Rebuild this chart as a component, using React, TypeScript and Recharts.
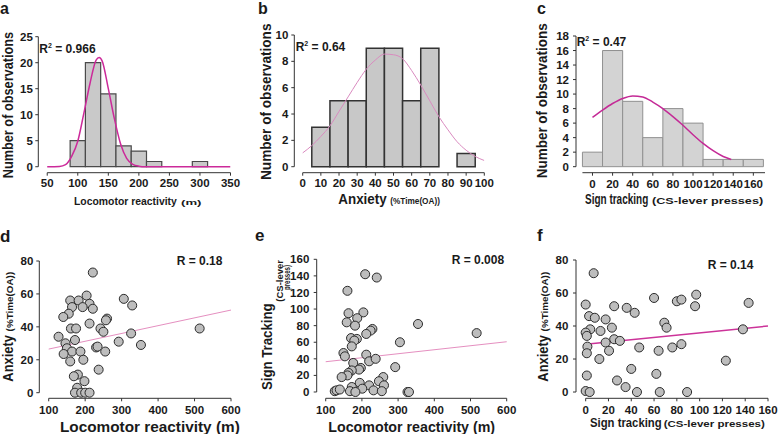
import React from "react"
import { ScatterChart, Scatter, XAxis, YAxis, ReferenceArea, ReferenceLine } from "recharts"

// histogram a: locomotor reactivity (bin centres, width 25)
const locoBinCenters = [100, 125, 150, 175, 200, 225, 300]
const locoCounts = [5, 20, 14, 4, 3, 1, 1]
const locoBinWidth = 25
const locoCurveX = [50, 70, 80, 90, 100, 110, 120, 130, 135, 140, 150, 160, 170, 180, 190, 200, 210, 350]
const locoCurveY = [0, 0.05, 0.4, 2.0, 4.9, 10.3, 16, 20.5, 21, 20.3, 15, 9.2, 4.4, 1.6, 0.45, 0.1, 0, 0]

// histogram b: anxiety
const anxBinCenters = [10, 20, 30, 40, 50, 60, 70, 90]
const anxCounts = [3, 5, 5, 9, 9, 5, 9, 1]
const anxBinWidth = 10
const anxCurveX = [0, 5, 10, 15, 20, 25, 30, 35, 40, 45, 50, 55, 60, 65, 70, 75, 80, 85, 90, 95, 100]
const anxCurveY = [1.05, 1.6, 2.3, 3.1, 4.2, 5.3, 6.4, 7.4, 8.1, 8.55, 8.5, 8.2, 7.3, 6.2, 5.0, 3.8, 2.8, 1.9, 1.25, 0.78, 0.47]

// histogram c: sign tracking
const signBinCenters = [0, 20, 40, 60, 80, 100, 120, 140, 160]
const signCounts = [2, 16, 9, 4, 8, 6, 1, 1, 1]
const signBinWidth = 20
const signCurveX = [0, 10, 20, 30, 40, 50, 60, 70, 80, 90, 100, 110, 120, 130, 138]
const signCurveY = [6.8, 7.8, 8.7, 9.4, 9.75, 9.6, 8.9, 8.0, 6.9, 5.7, 4.4, 3.2, 2.2, 1.4, 1.0]

// scatter d: locomotor vs anxiety
const dLoco = [221, 159, 182, 204, 212, 164, 193, 221, 306, 329, 155, 140, 260, 257, 212, 242, 250, 161, 175, 326, 514, 127, 172, 292, 146, 150, 230, 234, 353, 164, 187, 255, 141, 195, 159, 237, 180, 169, 198, 178, 172, 189, 200, 212]
const dAnx = [73, 56, 56, 59, 54, 52, 52, 51, 57, 53, 48, 46, 45, 44, 42, 39, 37, 39, 39, 36, 39, 34, 32, 31, 30, 27, 27.5, 28, 29, 25, 25, 25, 23.5, 20, 19, 14, 11, 10, 7, 3, 0, 0, 0, 0]
const dFitX = [100, 600]
const dFitY = [26.5, 50.2]

// scatter e: locomotor vs sign tracking
const eLoco = [209, 241, 160, 163, 204, 187, 158, 181, 229, 224, 212, 170, 186, 179, 172, 355, 517, 305, 149, 153, 212, 220, 238, 176, 197, 192, 292, 172, 163, 160, 144, 259, 194, 247, 261, 220, 201, 172, 232, 255, 125, 130, 139, 167, 182, 326, 330]
const eSign = [142, 138, 122, 95, 96, 89, 84, 80, 76, 74, 70, 65, 64, 62, 55, 82, 71, 60, 47, 43, 45, 37, 40, 35, 29, 27, 30, 26, 23, 20, 18, 18, 11, 13, 8, 8, 4, 6, 2, 1, 1, 2, 3, 1, 0, 0, 0]
const eFitX = [100, 600]
const eFitY = [36.5, 60.6]

// scatter f: sign tracking vs anxiety
const fSign = [7, 0, 25, 36, 43, 60, 80, 84, 97, 96, 143, 3, 8, 17.5, 69, 71, 23, 4, 13, 0, 1, 138, 25, 30, 17.5, 1.5, 47, 64, 76, 84, 20.5, 1, 12, 123, 40, 62, 1, 27.5, 35, 0, 3.5, 45, 65, 89]
const fAnx = [72, 53, 52, 51, 48, 57, 55, 56, 59, 52, 54, 46, 45, 44, 42, 39, 39, 38, 37, 36, 34, 38, 32, 31, 30, 27.5, 27, 25, 27, 29, 25, 23.5, 20, 19, 14, 11, 10, 7, 3, 0.6, 0, 0, 0, 0]
const fFitX = [0, 160]
const fFitY = [28.9, 40]

const locoTicks = [50, 100, 150, 200, 250, 300, 350]
const obsTicksA = [0, 5, 10, 15, 20, 25]
const anxTicks = [0, 10, 20, 30, 40, 50, 60, 70, 80, 90, 100]
const obsTicksB = [0, 2, 4, 6, 8, 10]
const signTicks = [0, 20, 40, 60, 80, 100, 120, 140, 160]
const obsTicksC = [0, 2, 4, 6, 8, 10, 12, 14, 16, 18]
const locoTicks2 = [100, 200, 300, 400, 500, 600]
const anxTicks2 = [0, 20, 40, 60, 80]
const signTicksE = [0, 20, 40, 60, 80, 100, 120, 140, 160]
const signTicks2 = [0, 20, 40, 60, 80, 100, 120, 140, 160]

const W = 778
const H = 434
const FONT = "'Liberation Sans', Arial, Helvetica, sans-serif"
const INK = "#1a1a1a"

const zip = (xs: number[], ys: number[]) => xs.map((x, i) => ({ x, y: ys[i] }))
const noShape = () => <g />

// width of a string in em, bold, measured once with a canvas
const measureCtx = typeof document !== "undefined" ? document.createElement("canvas").getContext("2d") : null
function emWidth(text: string) {
  if (!measureCtx) return text.length * 0.6
  measureCtx.font = `700 100px ${FONT}`
  return measureCtx.measureText(text).width / 100
}

type Box = { l: number; r: number; t: number; b: number }

function Panel(props: {
  box: Box
  xDomain: [number, number]
  yDomain: [number, number]
  xTicks: number[]
  yTicks: number[]
  xLine: [number, number]
  xGap: number
  yGap: number
  children?: React.ReactNode
}) {
  const { box, xDomain, yDomain, xTicks, yTicks, xLine, xGap, yGap } = props
  const tick = { fill: INK, fontSize: 11.5, fontWeight: 700, fontFamily: FONT }
  return (
    <div style={{ position: "absolute", left: 0, top: 0 }}>
      <ScatterChart width={W} height={H} margin={{ top: box.t, right: W - box.r, bottom: 0, left: 0 }}>
        <XAxis
          type="number"
          dataKey="x"
          domain={xDomain}
          ticks={xTicks}
          interval={0}
          allowDataOverflow
          axisLine={false}
          tickLine={{ stroke: "#333" }}
          tickSize={3}
          tickMargin={xGap}
          height={H - box.b}
          tick={tick}
        />
        <YAxis
          type="number"
          dataKey="y"
          domain={yDomain}
          ticks={yTicks}
          interval={0}
          allowDataOverflow
          axisLine={false}
          tickLine={{ stroke: "#333" }}
          tickSize={3}
          tickMargin={yGap}
          width={box.l}
          tick={tick}
        />
        {props.children}
        <ReferenceLine
          segment={[{ x: xLine[0], y: yDomain[0] }, { x: xLine[1], y: yDomain[0] }]}
          stroke="#333"
          ifOverflow="visible"
        />
        <ReferenceLine
          segment={[{ x: xDomain[0], y: 0 }, { x: xDomain[0], y: yTicks[yTicks.length - 1] }]}
          stroke="#333"
          ifOverflow="visible"
        />
      </ScatterChart>
    </div>
  )
}

function bins(centers: number[], counts: number[], width: number, fill: string, stroke: string, sw: number) {
  return centers.map((c, i) => (
    <ReferenceArea
      key={`bin-${i}`}
      x1={c - width / 2}
      x2={c + width / 2}
      y1={0}
      y2={counts[i]}
      fill={fill}
      fillOpacity={1}
      stroke={stroke}
      strokeWidth={sw}
      ifOverflow="visible"
    />
  ))
}

type Part = { at: number; len: number; size: number; text: string }

// axis title in parts; each part is sized so its natural width is `len`,
// then stretched across the line so its glyphs are as tall as `size` asks.
function Title(p: { x: number; y: number; vertical?: boolean; parts: Part[] }) {
  const base = p.vertical ? `translate(${p.x},${p.y}) rotate(-90)` : `translate(${p.x},${p.y})`
  return (
    <g>
      {p.parts.map((pt, i) => {
        const fit = pt.len / emWidth(pt.text)
        const k = pt.size / fit
        return (
          <text
            key={i}
            transform={`${base} translate(${pt.at},0) scale(1,${k.toFixed(3)})`}
            fontSize={fit.toFixed(2)}
            fontWeight={700}
            fill={INK}
            fontFamily={FONT}
          >
            {pt.text}
          </text>
        )
      })}
    </g>
  )
}

function Plain(p: { x: number; y: number; size: number; children: React.ReactNode }) {
  return (
    <text x={p.x} y={p.y} fontSize={p.size} fontWeight={700} fill={INK} fontFamily={FONT}>
      {p.children}
    </text>
  )
}

function RSq(p: { x: number; y: number; value: string }) {
  return (
    <text x={p.x} y={p.y} fontSize={12} fontWeight={700} fill={INK} fontFamily={FONT}>
      R<tspan fontSize={7} dy={-5}>2</tspan>
      <tspan dy={5}>{` = ${p.value}`}</tspan>
    </text>
  )
}

export default function App() {
  return (
    <div style={{ position: "absolute", left: 0, top: 0, width: W, height: H, background: "#fff" }}>
      {/* a */}
      <Panel box={{ l: 38.3, r: 230.5, t: 36.7, b: 172.7 }} xDomain={[35.4, 350]} yDomain={[-1.15, 25]} xTicks={locoTicks} yTicks={obsTicksA} xLine={[50, 350]} xGap={3.5} yGap={2.5}>
        {bins(locoBinCenters, locoCounts, locoBinWidth, "#c9c9c9", "#4a4a4a", 1.2)}
        <Scatter data={zip(locoCurveX, locoCurveY)} line={{ stroke: "#cc2a9a", strokeWidth: 1.5 }} lineJointType="monotoneX" shape={noShape} isAnimationActive={false} />
      </Panel>
      {/* b */}
      <Panel box={{ l: 294.3, r: 484.3, t: 35, b: 172.7 }} xDomain={[-4.63, 100]} yDomain={[-0.456, 10]} xTicks={anxTicks} yTicks={obsTicksB} xLine={[0, 100]} xGap={3.5} yGap={3}>
        {bins(anxBinCenters, anxCounts, anxBinWidth, "#c8c8c8", "#333", 1.5)}
        <Scatter data={zip(anxCurveX, anxCurveY)} line={{ stroke: "#d98abf", strokeWidth: 1 }} lineJointType="monotoneX" shape={noShape} isAnimationActive={false} />
      </Panel>
      {/* c */}
      <Panel box={{ l: 576, r: 765, t: 36, b: 172.7 }} xDomain={[-16.4, 171.6]} yDomain={[-0.83, 18]} xTicks={signTicks} yTicks={obsTicksC} xLine={[-10, 171.6]} xGap={4} yGap={4}>
        {bins(signBinCenters, signCounts, signBinWidth, "#d3d3d3", "#909090", 1)}
        <Scatter data={zip(signCurveX, signCurveY)} line={{ stroke: "#c42a96", strokeWidth: 1.5 }} lineJointType="monotoneX" shape={noShape} isAnimationActive={false} />
      </Panel>
      {/* d */}
      <Panel box={{ l: 39.3, r: 231, t: 261, b: 398.3 }} xDomain={[74.2, 600]} yDomain={[-3.4, 80]} xTicks={locoTicks2} yTicks={anxTicks2} xLine={[100, 600]} xGap={4.4} yGap={3}>
        <ReferenceLine segment={zip(dFitX, dFitY)} stroke="#e58fc0" strokeWidth={1} ifOverflow="visible" />
        <Scatter data={zip(dLoco, dAnx)} fill="#bdbdbd" stroke="#2b2b2b" strokeWidth={1} isAnimationActive={false} />
      </Panel>
      {/* e */}
      <Panel box={{ l: 316.7, r: 506.7, t: 259.3, b: 398.3 }} xDomain={[75.1, 600]} yDomain={[-7.6, 160]} xTicks={locoTicks2} yTicks={signTicksE} xLine={[100, 600]} xGap={4.4} yGap={4.4}>
        <ReferenceLine segment={zip(eFitX, eFitY)} stroke="#e58fc0" strokeWidth={1} ifOverflow="visible" />
        <Scatter data={zip(eLoco, eSign)} fill="#bdbdbd" stroke="#2b2b2b" strokeWidth={1} isAnimationActive={false} />
      </Panel>
      {/* f */}
      <Panel box={{ l: 576, r: 768, t: 260, b: 398.3 }} xDomain={[-8.5, 160]} yDomain={[-3.8, 80]} xTicks={signTicks2} yTicks={anxTicks2} xLine={[0, 160]} xGap={4.4} yGap={4.7}>
        <ReferenceLine segment={zip(fFitX, fFitY)} stroke="#cc3399" strokeWidth={1.5} ifOverflow="visible" />
        <Scatter data={zip(fSign, fAnx)} fill="#bdbdbd" stroke="#2b2b2b" strokeWidth={1} isAnimationActive={false} />
      </Panel>

      <svg width={W} height={H} style={{ position: "absolute", left: 0, top: 0, pointerEvents: "none" }}>
        <Plain x={0} y={13.5} size={16}>a</Plain>
        <Plain x={258} y={14} size={16}>b</Plain>
        <Plain x={537} y={14} size={16}>c</Plain>
        <Plain x={0} y={242} size={17}>d</Plain>
        <Plain x={255} y={241} size={17}>e</Plain>
        <Plain x={537} y={241} size={17}>f</Plain>

        <RSq x={39.3} y={52.7} value="0.966" />
        <RSq x={295.7} y={50.7} value="0.64" />
        <RSq x={576.7} y={46} value="0.47" />
        <Plain x={176.7} y={265} size={12}>R = 0.18</Plain>
        <Plain x={451.7} y={264} size={12}>R = 0.008</Plain>
        <Plain x={707.7} y={269.3} size={12}>R = 0.14</Plain>

        <Title x={74} y={204.7} parts={[
          { at: 0, len: 103, size: 11.5, text: "Locomotor reactivity" },
          { at: 107, len: 20.5, size: 7.5, text: "(m)" },
        ]} />
        <Title x={338.3} y={204} parts={[
          { at: 0, len: 48.4, size: 15, text: "Anxiety" },
          { at: 52, len: 49.7, size: 9, text: "(%Time(OA))" },
        ]} />
        <Title x={585} y={204} parts={[
          { at: 0, len: 63.3, size: 15, text: "Sign tracking" },
          { at: 67, len: 111.3, size: 9.5, text: "(CS-lever presses)" },
        ]} />
        <Title x={60} y={432.3} parts={[{ at: 0, len: 180, size: 15, text: "Locomotor reactivity (m)" }]} />
        <Title x={328.3} y={431.7} parts={[{ at: 0, len: 167, size: 15, text: "Locomotor reactivity (m)" }]} />
        <Title x={590} y={427} parts={[
          { at: 0, len: 71.7, size: 13.5, text: "Sign tracking" },
          { at: 73.7, len: 101.3, size: 9.5, text: "(CS-lever presses)" },
        ]} />

        <Title x={12.7} y={178.3} vertical parts={[{ at: 0, len: 146.7, size: 14, text: "Number of observations" }]} />
        <Title x={271} y={180} vertical parts={[{ at: 0, len: 156.7, size: 14.5, text: "Number of observations" }]} />
        <Title x={547.3} y={178.3} vertical parts={[{ at: 0, len: 155, size: 14.5, text: "Number of observations" }]} />
        <Title x={13} y={381.7} vertical parts={[
          { at: 0, len: 46.7, size: 14.5, text: "Anxiety" },
          { at: 50.3, len: 59.7, size: 9, text: "(%Time(OA))" },
        ]} />
        <Title x={272} y={390} vertical parts={[{ at: 0, len: 86.7, size: 14.5, text: "Sign Tracking" }]} />
        <Title x={282.5} y={301.7} vertical parts={[{ at: 0, len: 41.7, size: 8.5, text: "(CS-lever" }]} />
        <Title x={289.5} y={290} vertical parts={[{ at: 0, len: 25, size: 8.5, text: "presses)" }]} />
        <Title x={547.7} y={381.7} vertical parts={[
          { at: 0, len: 46.7, size: 14.5, text: "Anxiety" },
          { at: 50.3, len: 59.7, size: 9, text: "(%Time(OA))" },
        ]} />
      </svg>
    </div>
  )
}
